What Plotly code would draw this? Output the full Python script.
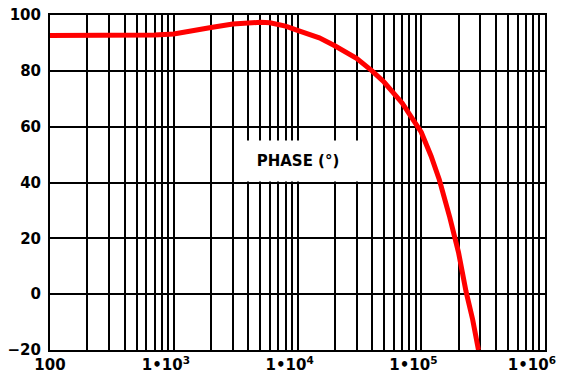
import plotly.graph_objects as go

# phase response
freq = [100, 200, 400, 700, 1000, 1500, 2000, 3000, 4000, 5000, 6000, 8000,
        1e4, 1.5e4, 2e4, 3e4, 4e4, 5e4, 7e4, 1e5, 1.2e5, 1.4e5, 1.7e5, 2e5,
        2.3e5, 2.6e5, 2.9e5]
phase = [92.7, 92.6, 92.6, 92.8, 93.2, 94.3, 95.5, 96.8, 97.3, 97.4, 97.2, 96.0,
         94.5, 91.8, 89.0, 84.5, 80.0, 76.0, 68.5, 58.0, 49.5, 41.0, 27.5, 15.0,
         1.0, -9.0, -20.0]

decades = [2, 3, 4, 5, 6]
# trailing nbsp pulls the 1•10^n labels a bit left, like the reference
pad = '\u00a0' * 3
decade_labels = ['100', '1•10<sup>3</sup>' + pad, '1•10<sup>4</sup>' + pad,
                 '1•10<sup>5</sup>' + pad, '1•10<sup>6</sup>' + pad + '\u00a0\u00a0']

# every 1..9 step of each decade gets a grid line, only the decades get a label
tickvals = []
ticktext = []
for i, d in enumerate(decades):
    for k in range(1, 10):
        if d == 6 and k > 1:
            break
        tickvals.append(k * 10 ** d)
        ticktext.append(decade_labels[i] if k == 1 else '')

font_bold = dict(family='DejaVu Sans, Arial, sans-serif', size=15, color='black', weight='bold')

fig = go.Figure()
fig.add_trace(go.Scatter(x=freq, y=phase, mode='lines',
                         line=dict(color='#ff0000', width=5), showlegend=False))

# page body adds 8px around the div, so the figure is shrunk to fit the window
fig.update_layout(
    width=558, height=371,
    margin=dict(l=42, r=21, t=7, b=29),
    paper_bgcolor='white', plot_bgcolor='white',
    xaxis=dict(type='log', range=[2, 6], tickvals=tickvals, ticktext=ticktext,
               showgrid=True, gridcolor='black', gridwidth=2,
               showline=True, linecolor='black', linewidth=2, mirror=True,
               ticks='', tickfont=font_bold, zeroline=False, automargin=False,
               ticklabeloverflow='allow'),
    yaxis=dict(range=[-20, 100], dtick=20, tick0=0,
               showgrid=True, gridcolor='black', gridwidth=2,
               showline=True, linecolor='black', linewidth=2, mirror=True,
               ticks='', tickfont=font_bold, zeroline=False, ticklabelstandoff=4,
               automargin=False, ticklabeloverflow='allow'),
    annotations=[dict(text='PHASE (°)', xref='paper', yref='paper', x=0.502, y=0.565,
                      showarrow=False, bgcolor='white', width=122, height=38,
                      font=font_bold)],
)

fig.write_html("out.html")
